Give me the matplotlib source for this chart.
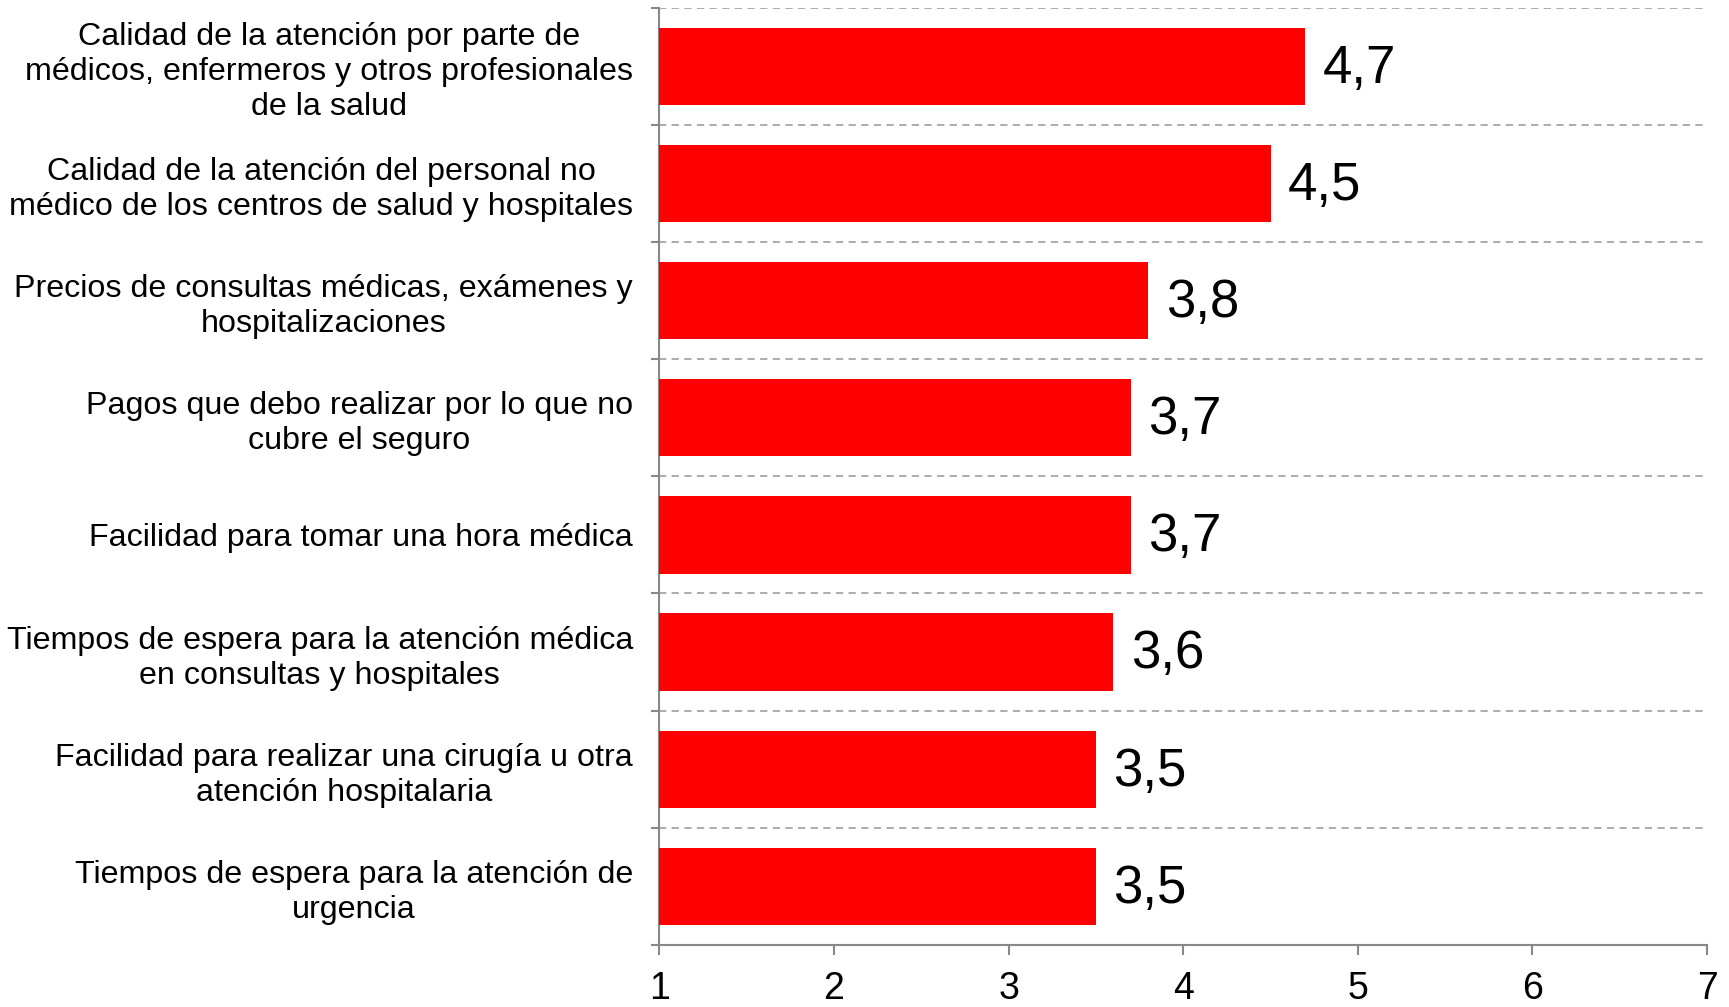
import matplotlib.pyplot as plt
import numpy as np

plt.rcParams['font.family'] = ['Liberation Sans', 'DejaVu Sans']

# datos (de arriba hacia abajo)
categorias = [
    'Calidad de la atención por parte de\nmédicos, enfermeros y otros profesionales\nde la salud',
    'Calidad de la atención del personal no\nmédico de los centros de salud y hospitales',
    'Precios de consultas médicas, exámenes y\nhospitalizaciones',
    'Pagos que debo realizar por lo que no\ncubre el seguro',
    'Facilidad para tomar una hora médica',
    'Tiempos de espera para la atención médica\nen consultas y hospitales',
    'Facilidad para realizar una cirugía u otra\natención hospitalaria',
    'Tiempos de espera para la atención de\nurgencia',
]
valores = [4.7, 4.5, 3.8, 3.7, 3.7, 3.6, 3.5, 3.5]
etiquetas = ['4,7', '4,5', '3,8', '3,7', '3,7', '3,6', '3,5', '3,5']
x_ticks = [1, 2, 3, 4, 5, 6, 7]

fig = plt.figure(figsize=(17.29, 10.07), dpi=100)
ax = fig.add_axes([0.3814, 0.0616, 0.9873 - 0.3814, 0.9924 - 0.0616])

y = np.arange(len(categorias))
base = 1
ax.barh(y, np.array(valores) - base, left=base, height=0.66, color='#ff0000', zorder=3)

for yi, v, t in zip(y, valores, etiquetas):
    ax.text(v + 0.1, yi + 0.02, t, va='center', ha='left', fontsize=38, color='black')

ax.set_xlim(1, 7)
ax.set_ylim(len(categorias) - 0.5, -0.5)
ax.set_xticks(x_ticks)
ax.set_xticklabels([str(t) for t in x_ticks])
ax.set_yticks(y)
ax.set_yticklabels(categorias, fontsize=23.2, multialignment='center', linespacing=1.22)
ax.set_yticks(np.arange(len(categorias) + 1) - 0.5, minor=True)

ax.tick_params(axis='y', which='major', length=0, pad=19)
ax.tick_params(axis='y', which='minor', length=6, width=1.5, color='#888888')
ax.tick_params(axis='x', which='major', length=7, width=1.5, color='#888888',
               labelsize=27, pad=12)

ax.grid(True, axis='y', which='minor', linestyle=(0, (4, 3)), color='#a6a6a6',
        linewidth=1.3, zorder=0)

for s in ['top', 'right']:
    ax.spines[s].set_visible(False)
for s in ['left', 'bottom']:
    ax.spines[s].set_color('#888888')
    ax.spines[s].set_linewidth(1.5)

fig.savefig('out.png', dpi=100)
